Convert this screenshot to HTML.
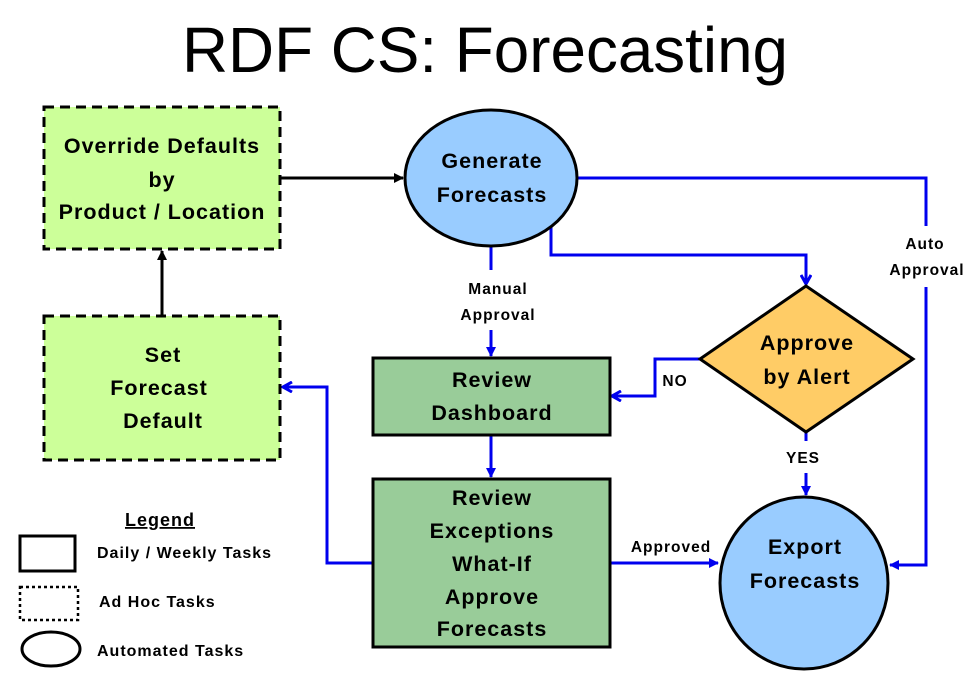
<!DOCTYPE html>
<html><head><meta charset="utf-8"><style>
html,body{margin:0;padding:0;background:#fff;}
svg{display:block;}
text{font-family:"Liberation Sans",Arial,sans-serif;}
</style></head><body>
<svg width="973" height="689" viewBox="0 0 973 689" xmlns="http://www.w3.org/2000/svg">
<defs>
<marker id="ab" markerWidth="10" markerHeight="10" refX="9" refY="5" orient="auto" markerUnits="userSpaceOnUse"><path d="M0,0 L10,5 L0,10 z" fill="#000"/></marker>
<marker id="bl" markerWidth="12" markerHeight="12" refX="10" refY="6" orient="auto" markerUnits="userSpaceOnUse"><path d="M1,1 L10,6 L1,11" fill="none" stroke="#0000ee" stroke-width="3"/></marker>
<marker id="bf" markerWidth="10" markerHeight="10" refX="9" refY="5" orient="auto" markerUnits="userSpaceOnUse"><path d="M0,0 L10,5 L0,10 z" fill="#0000ee"/></marker>
</defs>
<text x="182" y="72" font-size="64" textLength="606" lengthAdjust="spacingAndGlyphs">RDF CS: Forecasting</text>

<g fill="none" stroke="#0000ee" stroke-width="3">
<path d="M577,178 H926 V226 M926,287 V565 H890" marker-end="url(#bf)"/>
<path d="M551,226 V255 H806 V284" marker-end="url(#bl)"/>
<path d="M491,246 V270"/>
<path d="M491,330 V356" marker-end="url(#bf)"/>
<path d="M700,359 H655 V396 H612" marker-end="url(#bl)"/>
<path d="M806,432 V441"/>
<path d="M806,473 V495" marker-end="url(#bf)"/>
<path d="M491,435 V477" marker-end="url(#bf)"/>
<path d="M610,563 H718" marker-end="url(#bf)"/>
<path d="M373,563 H327 V387 H283" marker-end="url(#bl)"/>
</g>
<g fill="none" stroke="#000" stroke-width="3">
<path d="M280,178 H403" marker-end="url(#ab)"/>
<path d="M162,315 V251" marker-end="url(#ab)"/>
</g>

<rect x="44" y="107" width="236" height="142" fill="#ccff99" stroke="#000" stroke-width="3" stroke-dasharray="10,6"/>
<rect x="44" y="316" width="236" height="144" fill="#ccff99" stroke="#000" stroke-width="3" stroke-dasharray="10,6"/>
<ellipse cx="491" cy="178" rx="86" ry="68" fill="#99ccff" stroke="#000" stroke-width="3"/>
<rect x="373" y="358" width="237" height="77" fill="#99cc99" stroke="#000" stroke-width="3"/>
<rect x="373" y="479" width="237" height="168" fill="#99cc99" stroke="#000" stroke-width="3"/>
<polygon points="806,286 913,359 806,432 700,359" fill="#ffcc66" stroke="#000" stroke-width="3"/>
<ellipse cx="804" cy="583" rx="84" ry="86" fill="#99ccff" stroke="#000" stroke-width="3"/>

<g font-weight="bold" font-size="21.5" letter-spacing="1" text-anchor="middle" fill="#000">
<text x="162" y="153">Override Defaults</text>
<text x="162" y="187">by</text>
<text x="162" y="219">Product / Location</text>
<text x="163" y="362">Set</text>
<text x="159" y="395">Forecast</text>
<text x="163" y="428">Default</text>
<text x="492" y="168">Generate</text>
<text x="492" y="202">Forecasts</text>
<text x="492" y="387">Review</text>
<text x="492" y="420">Dashboard</text>
<text x="492" y="505">Review</text>
<text x="492" y="538">Exceptions</text>
<text x="492" y="571">What-If</text>
<text x="492" y="604">Approve</text>
<text x="492" y="636">Forecasts</text>
<text x="807" y="350">Approve</text>
<text x="807" y="384">by Alert</text>
<text x="805" y="554">Export</text>
<text x="805" y="588">Forecasts</text>
</g>
<g font-weight="bold" font-size="15.5" letter-spacing="1" text-anchor="middle" fill="#000">
<text x="498" y="294">Manual</text>
<text x="498" y="320">Approval</text>
<text x="925" y="249">Auto</text>
<text x="927" y="275">Approval</text>
<text x="675" y="386">NO</text>
<text x="803" y="463">YES</text>
<text x="671" y="552">Approved</text>
</g>

<text x="160" y="526" font-size="18" font-weight="bold" letter-spacing="1" text-anchor="middle" text-decoration="underline">Legend</text>
<rect x="20" y="536" width="55" height="35" fill="none" stroke="#000" stroke-width="3"/>
<rect x="20" y="587" width="58" height="33" fill="none" stroke="#000" stroke-width="2.5" stroke-dasharray="3,3"/>
<ellipse cx="51" cy="649" rx="29" ry="17" fill="none" stroke="#000" stroke-width="3"/>
<g font-size="16" font-weight="bold" letter-spacing="1" fill="#000">
<text x="97" y="558">Daily / Weekly Tasks</text>
<text x="99" y="607">Ad Hoc Tasks</text>
<text x="97" y="656">Automated Tasks</text>
</g>
</svg>
</body></html>
